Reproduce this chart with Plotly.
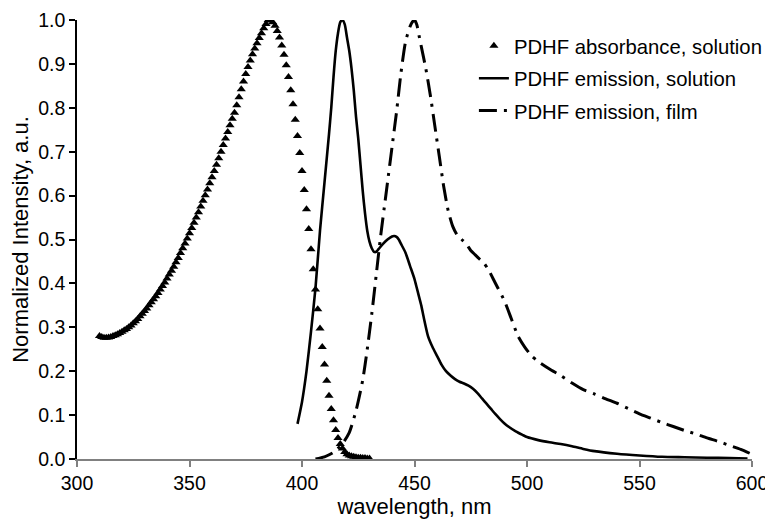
import plotly.graph_objects as go

# Absorbance (solution), 1 nm grid
abs_wl = list(range(310, 431))
abs_val = [
    0.280, 0.278, 0.276, 0.276, 0.277, 0.278, 0.280, 0.282, 0.284, 0.287,
    0.290, 0.293, 0.296, 0.300, 0.304, 0.309, 0.314, 0.319, 0.325, 0.331,
    0.337, 0.343, 0.350, 0.357, 0.364, 0.371, 0.378, 0.386, 0.394, 0.402,
    0.411, 0.420, 0.429, 0.438, 0.448, 0.458, 0.469, 0.480, 0.491, 0.502,
    0.514, 0.526, 0.538, 0.550, 0.562, 0.575, 0.588, 0.601, 0.614, 0.628,
    0.642, 0.656, 0.670, 0.685, 0.700, 0.715, 0.730, 0.745, 0.760, 0.775,
    0.789, 0.806, 0.824, 0.842, 0.860, 0.877, 0.893, 0.908, 0.922, 0.935,
    0.947, 0.959, 0.970, 0.981, 0.991, 1.000, 0.999, 0.995, 0.987, 0.975,
    0.960, 0.942, 0.921, 0.897, 0.870, 0.840, 0.808, 0.773, 0.736, 0.697,
    0.656, 0.613, 0.569, 0.524, 0.478, 0.432, 0.386, 0.341, 0.297, 0.255,
    0.215, 0.178, 0.144, 0.114, 0.088, 0.066, 0.048, 0.034, 0.024, 0.016,
    0.011, 0.008, 0.006, 0.005, 0.004, 0.003, 0.003, 0.002, 0.002, 0.001,
    0.001,
]

# Emission, solution
sol_wl = [398, 400, 402, 404, 406, 408, 410, 412, 413, 414, 415, 416, 417, 418, 419,
          420, 421, 422, 423, 424, 425, 426, 427, 428, 429, 430, 431, 432, 433, 434,
          436, 438, 440, 441, 442, 443, 444, 446, 448, 450, 451, 452, 453, 454, 456,
          458, 460, 462, 464, 466, 468, 470, 472, 474, 476, 478, 480, 482, 484, 486,
          488, 490, 492, 495, 498, 500, 505, 510, 515, 520, 525, 530, 540, 550, 560,
          570, 580, 590, 598]
sol_val = [0.08, 0.13, 0.20, 0.29, 0.39, 0.52, 0.63, 0.74, 0.80, 0.87, 0.93, 0.97, 0.995, 1.00, 0.99,
           0.96, 0.93, 0.89, 0.84, 0.78, 0.73, 0.67, 0.61, 0.56, 0.52, 0.495, 0.48, 0.472, 0.472, 0.478,
           0.49, 0.50, 0.507, 0.508, 0.506, 0.50, 0.49, 0.47, 0.44, 0.41, 0.39, 0.37, 0.35, 0.325, 0.28,
           0.255, 0.235, 0.215, 0.20, 0.19, 0.182, 0.176, 0.172, 0.167, 0.16, 0.15, 0.138, 0.126, 0.114, 0.102,
           0.091, 0.081, 0.073, 0.063, 0.055, 0.05, 0.043, 0.038, 0.034, 0.029, 0.023, 0.018, 0.012, 0.008, 0.005,
           0.004, 0.003, 0.002, 0.001]

# Emission, film
film_wl = [406, 410, 414, 418, 421, 424, 427, 429, 431, 433, 435, 437, 438, 440, 442,
           444, 446, 448, 449, 450, 451, 452, 453, 455, 457, 459, 461, 463, 465, 467,
           469, 471, 473, 475, 477, 479, 481, 483, 485, 487, 490, 493, 496, 499, 502,
           505, 510, 515, 520, 525, 530, 535, 540, 545, 550, 555, 560, 565, 570, 575,
           580, 585, 590, 595, 599]
film_val = [0.0, 0.005, 0.015, 0.035, 0.06, 0.11, 0.18, 0.25, 0.33, 0.42, 0.51, 0.59, 0.63, 0.71, 0.79,
            0.88, 0.95, 0.985, 0.995, 1.0, 0.99, 0.965, 0.94, 0.89, 0.83, 0.76, 0.69, 0.62, 0.565, 0.53,
            0.51, 0.50, 0.49, 0.475, 0.465, 0.455, 0.445, 0.43, 0.41, 0.39, 0.36, 0.32, 0.28, 0.255, 0.235,
            0.222, 0.205, 0.19, 0.173, 0.158, 0.148, 0.137, 0.127, 0.115, 0.103, 0.093, 0.083, 0.074, 0.065, 0.057,
            0.048, 0.04, 0.031, 0.022, 0.013]

x_ticks = [300, 350, 400, 450, 500, 550, 600]
y_ticks = [0.0, 0.1, 0.2, 0.3, 0.4, 0.5, 0.6, 0.7, 0.8, 0.9, 1.0]

FONT = "Liberation Sans, Arial, sans-serif"

fig = go.Figure()
fig.add_trace(go.Scatter(
    x=abs_wl, y=abs_val, mode="markers", name="PDHF absorbance, solution",
    legendgroup="a",
    marker=dict(symbol="triangle-up", size=8, color="black", line=dict(width=0)),
))
fig.add_trace(go.Scatter(
    x=sol_wl, y=sol_val, mode="lines", name="PDHF emission, solution",
    legendgroup="b",
    line=dict(color="black", width=2.6, shape="spline", smoothing=0.6),
))
fig.add_trace(go.Scatter(
    x=film_wl, y=film_val, mode="lines", name="PDHF emission, film",
    legendgroup="c",
    line=dict(color="black", width=3, dash="18px,7px,3px,7px", shape="spline", smoothing=0.6),
))

fig.update_layout(
    width=773, height=519,
    margin=dict(l=69, r=29, t=12, b=68, autoexpand=False),
    paper_bgcolor="white", plot_bgcolor="white",
    font=dict(family=FONT, size=19, color="black"),
    showlegend=True,
    legend=dict(
        x=0.588, y=0.986, xanchor="left", yanchor="top",
        font=dict(family=FONT, size=20.3, color="black"),
        bgcolor="rgba(0,0,0,0)", tracegroupgap=3,
    ),
    xaxis=dict(
        range=[300, 600], tickmode="array", tickvals=x_ticks,
        ticktext=[str(v) for v in x_ticks],
        showgrid=False, zeroline=False,
        showline=True, linecolor="#808080", linewidth=1.5,
        ticks="outside", ticklen=6, tickcolor="#808080", tickwidth=1.5,
        tickfont=dict(size=19.5),
        title=dict(text="wavelength, nm", font=dict(size=22), standoff=4),
        automargin=False,
    ),
    yaxis=dict(
        range=[0, 1.0], tickmode="array", tickvals=y_ticks,
        ticktext=[f"{v:.1f}" for v in y_ticks],
        showgrid=False, zeroline=False,
        showline=True, linecolor="black", linewidth=1.5,
        ticks="outside", ticklen=6, tickcolor="black", tickwidth=1.5,
        tickfont=dict(size=19.5),
        title=dict(text="Normalized Intensity, a.u.", font=dict(size=22), standoff=17),
        automargin=False,
    ),
)

fig.write_html("out.html")
